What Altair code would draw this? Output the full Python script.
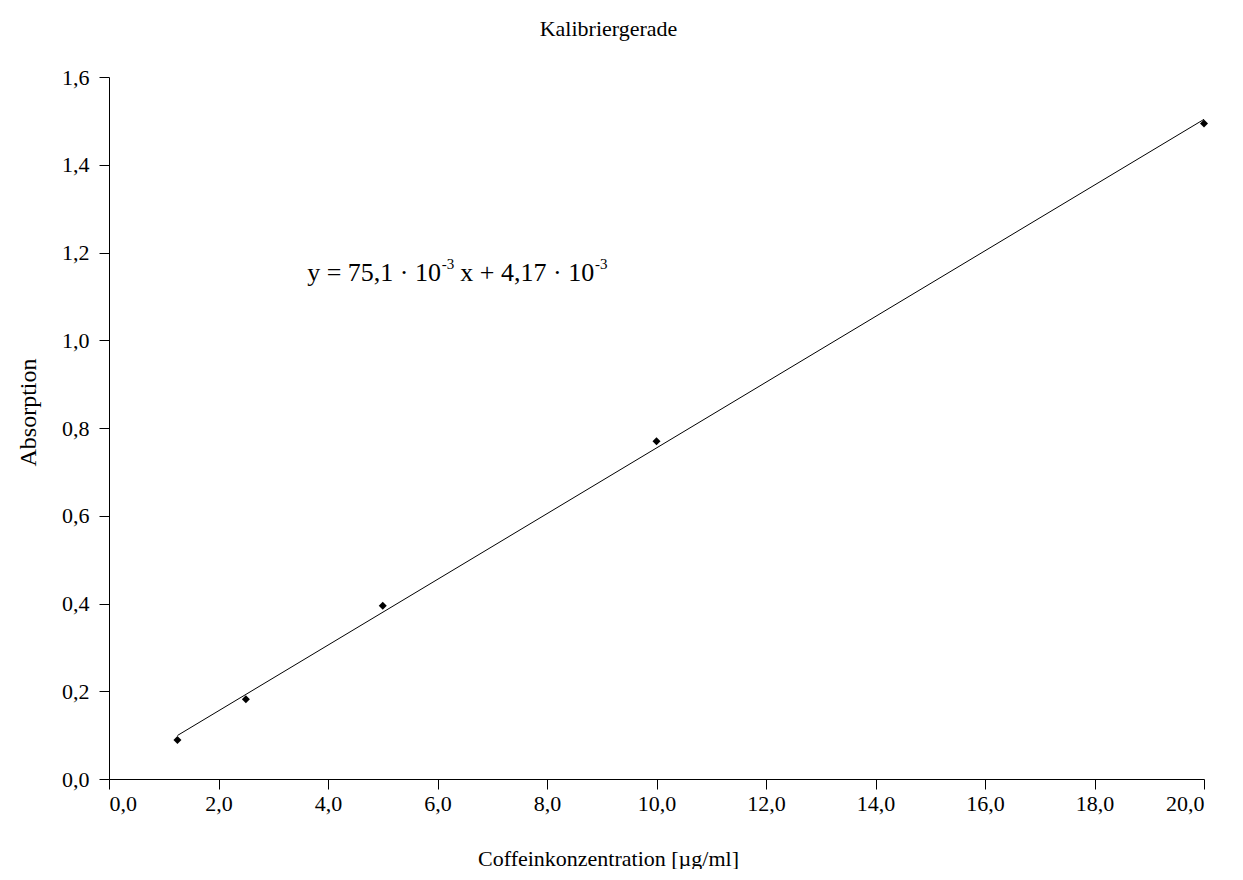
import altair as alt
import pandas as pd

konzentration = [1.25, 2.5, 5.0, 10.0, 20.0]
absorption = [0.089, 0.182, 0.395, 0.770, 1.494]

titel = "Kalibriergerade"
x_titel = "Coffeinkonzentration [µg/ml]"
y_titel = "Absorption"
# regression equation, split into normal text and superscripts
gleichung_teile = ["y = 75,1 · 10", "-3", "x + 4,17 · 10", "-3"]
gleichung_x = [3.62]
gleichung_y = [1.153]

x_ticks = [0, 2, 4, 6, 8, 10, 12, 14, 16, 18, 20]
y_ticks = [0, 0.2, 0.4, 0.6, 0.8, 1.0, 1.2, 1.4, 1.6]

df = pd.DataFrame({"x": konzentration, "y": absorption})

FONT = "Liberation Serif"
EQ_SIZE = 26
SUP_SIZE = 15

x_scale = alt.Scale(domain=[0, 20], nice=False, zero=True)
y_scale = alt.Scale(domain=[0, 1.6], nice=False, zero=True)

x_axis = alt.Axis(
    values=x_ticks,
    labelExpr="replace(format(datum.value, '.1f'), '.', ',')",
    title=x_titel,
    grid=False,
    tickSize=10,
    labelPadding=4,
    titleX=499,
    titleY=79,
    titleFontSize=22,
    titleBaseline="middle",
    titleAlign="center",
)
y_axis = alt.Axis(
    values=y_ticks,
    labelExpr="replace(format(datum.value, '.1f'), '.', ',')",
    title=y_titel,
    grid=False,
    tickSize=10,
    labelPadding=10,
    titleX=-81,
    titleY=335,
    titleFontSize=24,
    titleAngle=-90,
    titleBaseline="middle",
    titleAlign="center",
)

base = alt.Chart(df)

points = base.mark_point(
    shape="diamond", filled=True, size=64, color="black", opacity=1
).encode(
    x=alt.X("x:Q", scale=x_scale, axis=x_axis),
    y=alt.Y("y:Q", scale=y_scale, axis=y_axis),
)

fit = base.transform_regression("x", "y", method="linear").mark_line(
    color="black", strokeWidth=1
).encode(
    x=alt.X("x:Q", scale=x_scale),
    y=alt.Y("y:Q", scale=y_scale),
)

# widths (em) of Times-metric glyph runs, used to chain the equation pieces
def em_width(s):
    w = {"y": .5, " ": .25, "=": .564, "7": .5, "5": .5,
         ",": .25, "1": .5, "·": .25, "0": .5, "-": .333, "3": .5, "x": .5,
         "+": .564, "4": .5}
    return sum(w.get(c, .5) for c in s)

text_layers = []
cursor = 0.0
for i, teil in enumerate(gleichung_teile):
    sup = i % 2 == 1
    size = SUP_SIZE if sup else EQ_SIZE
    if sup:
        cursor += 3
    elif i > 0:
        cursor += 6
    df_t = pd.DataFrame({"x": gleichung_x, "y": gleichung_y, "t": [teil]})
    layer = alt.Chart(df_t).mark_text(
        align="left", baseline="middle", font=FONT, fontSize=size,
        color="black", dx=cursor, dy=-9 if sup else 0,
    ).encode(
        x=alt.X("x:Q", scale=x_scale),
        y=alt.Y("y:Q", scale=y_scale),
        text="t:N",
    )
    text_layers.append(layer)
    cursor += em_width(teil) * size

chart = (
    alt.layer(fit, points, *text_layers)
    .properties(
        width=1095,
        height=702,
        title=alt.TitleParams(
            titel, font=FONT, fontSize=22, fontWeight="normal", color="black",
            anchor="middle", dx=-48, offset=25,
        ),
        autosize=alt.AutoSizeParams(type="none"),
        padding={"left": 101, "top": 69, "right": 30, "bottom": 90},
    )
    .configure_view(stroke=None)
    .configure_axis(
        labelFont=FONT,
        titleFont=FONT,
        labelFontSize=22,
        titleFontWeight="normal",
        labelColor="black",
        titleColor="black",
        domainColor="black",
        tickColor="black",
        domainWidth=1,
        tickWidth=1,
    )
)

chart.save("out.html", embed_options={"renderer": "svg", "actions": False})
